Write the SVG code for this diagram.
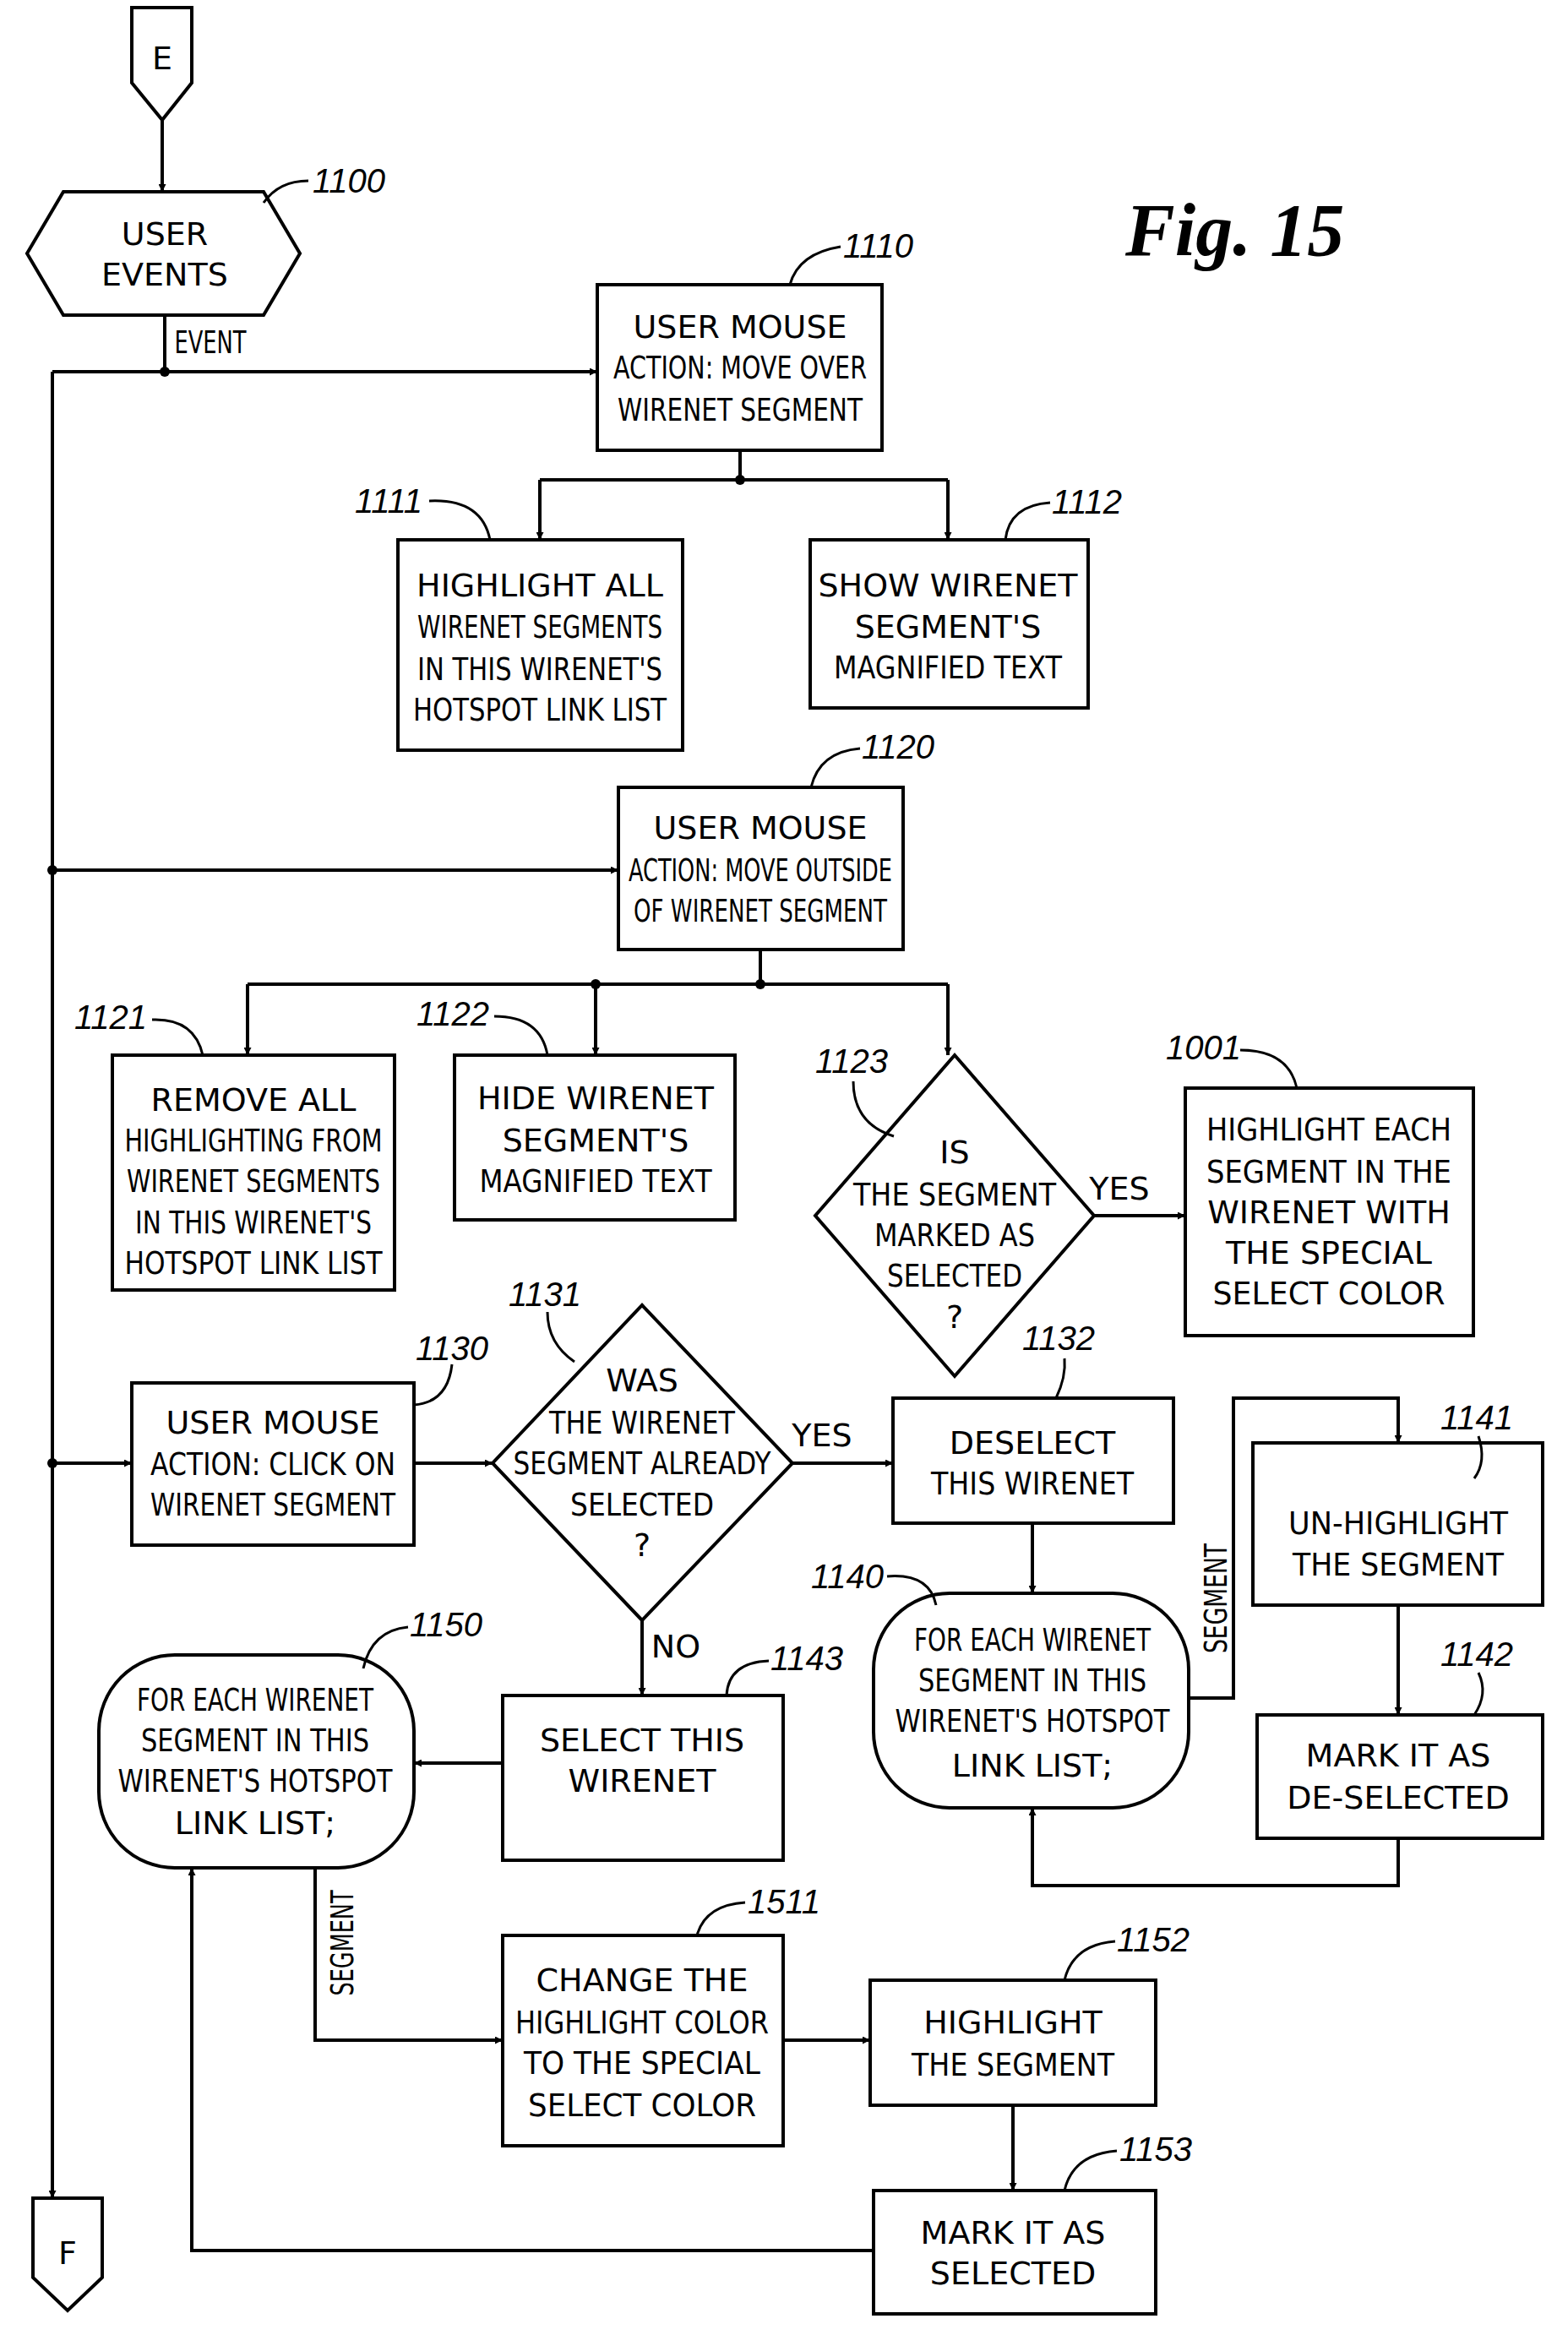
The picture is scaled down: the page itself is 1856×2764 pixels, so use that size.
<svg xmlns="http://www.w3.org/2000/svg" width="1856" height="2764" viewBox="0 0 1856 2764">
<defs>
<marker id="ah" viewBox="0 0 10 10" refX="10" refY="5" markerWidth="9" markerHeight="9" orient="auto" markerUnits="userSpaceOnUse"><path d="M0,0 L10,5 L0,10 z" fill="#000"/></marker>
<style>
.s{fill:#fff;stroke:#000;stroke-width:4}
.t{font-family:"DejaVu Sans",sans-serif;font-size:38px;text-anchor:middle;fill:#000}
.l{font-family:"Liberation Sans",sans-serif;font-style:italic;font-size:40px;fill:#000}
.c{fill:none;stroke:#000;stroke-width:4;marker-end:url(#ah)}
.n{fill:none;stroke:#000;stroke-width:4}
.r{fill:none;stroke:#000;stroke-width:3}
</style>
</defs>
<rect width="1856" height="2764" fill="#fff"/>
<text x="1332" y="302" font-family="Liberation Serif,serif" font-style="italic" font-weight="bold" font-size="88">Fig.  15</text>
<g id="connectors">
<path class="c" d="M192,142 V227"/>
<path class="n" d="M195,373 V440"/>
<path class="c" d="M62,440 H707"/>
<path class="c" d="M62,440 V2602"/>
<path class="n" d="M876,533 V568 M639,568 H1122"/>
<path class="c" d="M639,568 V639"/>
<path class="c" d="M1122,568 V639"/>
<path class="c" d="M62,1030 H732"/>
<path class="n" d="M900,1124 V1165 M293,1165 H1122"/>
<path class="c" d="M293,1165 V1249"/>
<path class="c" d="M705,1165 V1249"/>
<path class="c" d="M1122,1165 V1249"/>
<path class="c" d="M1295,1439 H1403"/>
<path class="c" d="M62,1732 H156"/>
<path class="c" d="M490,1732 H583"/>
<path class="c" d="M938,1732 H1057"/>
<path class="c" d="M760,1918 V2007"/>
<path class="c" d="M595,2087 H490"/>
<path class="c" d="M1222,1803 V1886"/>
<path class="c" d="M1407,2010 H1460 V1655 H1655 V1708"/>
<path class="c" d="M1655,1900 V2030"/>
<path class="c" d="M1655,2176 V2232 H1222 V2140"/>
<path class="c" d="M373,2211 V2415 H595"/>
<path class="c" d="M927,2415 H1030"/>
<path class="c" d="M1199,2492 V2593"/>
<path class="c" d="M1034,2664 H227 V2211"/>
<circle cx="195" cy="440" r="6"/><circle cx="62" cy="1030" r="6"/><circle cx="62" cy="1732" r="6"/>
<circle cx="876" cy="568" r="6"/><circle cx="900" cy="1165" r="6"/><circle cx="705" cy="1165" r="6"/>
<text class="t" x="249" y="418" font-size="32" textLength="85" lengthAdjust="spacingAndGlyphs">EVENT</text>
<text class="t" x="1325" y="1420">YES</text>
<text class="t" x="973" y="1712" font-size="34">YES</text>
<text class="t" x="800" y="1962">NO</text>
</g>
<g id="E"><path class="s" d="M156,9 H227 V98 L192,142 L156,98 Z"/><text class="t" x="192" y="82">E</text></g>
<g id="F"><path class="s" d="M39,2602 H121 V2696 L80,2735 L39,2696 Z"/><text class="t" x="80" y="2680">F</text></g>
<g id="n1100"><path class="s" d="M32,300 L75,227 H312 L355,300 L312,373 H75 Z"/><text class="t" x="195" y="290">USER</text><text class="t" x="195" y="338">EVENTS</text><text class="l" x="370" y="228">1100</text><path class="r" d="M312,240 Q330,214 365,214"/></g>
<g id="n1110"><rect class="s" x="707" y="337" width="337" height="196"/><text class="t" x="876" y="400">USER MOUSE</text><text class="t" x="876" y="448" textLength="300" lengthAdjust="spacingAndGlyphs">ACTION: MOVE OVER</text><text class="t" x="876" y="498" textLength="290" lengthAdjust="spacingAndGlyphs">WIRENET SEGMENT</text><text class="l" x="998" y="305">1110</text><path class="r" d="M935,337 Q945,300 995,292"/></g>
<g id="n1111"><rect class="s" x="471" y="639" width="337" height="249"/><text class="t" x="639" y="706">HIGHLIGHT ALL</text><text class="t" x="639" y="755" textLength="290" lengthAdjust="spacingAndGlyphs">WIRENET SEGMENTS</text><text class="t" x="639" y="805" textLength="290" lengthAdjust="spacingAndGlyphs">IN THIS WIRENET'S</text><text class="t" x="639" y="853" textLength="300" lengthAdjust="spacingAndGlyphs">HOTSPOT LINK LIST</text><text class="l" x="420" y="607">1111</text><path class="r" d="M508,593 Q570,590 580,639"/></g>
<g id="n1112"><rect class="s" x="959" y="639" width="329" height="199"/><text class="t" x="1122" y="706">SHOW WIRENET</text><text class="t" x="1122" y="755">SEGMENT'S</text><text class="t" x="1122" y="803" textLength="270" lengthAdjust="spacingAndGlyphs">MAGNIFIED TEXT</text><text class="l" x="1245" y="608">1112</text><path class="r" d="M1190,639 Q1195,598 1243,595"/></g>
<g id="n1120"><rect class="s" x="732" y="932" width="337" height="192"/><text class="t" x="900" y="993">USER MOUSE</text><text class="t" x="900" y="1043" textLength="312" lengthAdjust="spacingAndGlyphs">ACTION: MOVE OUTSIDE</text><text class="t" x="900" y="1091" textLength="300" lengthAdjust="spacingAndGlyphs">OF WIRENET SEGMENT</text><text class="l" x="1020" y="898">1120</text><path class="r" d="M960,932 Q970,890 1018,886"/></g>
<g id="n1121"><rect class="s" x="133" y="1249" width="334" height="278"/><text class="t" x="300" y="1315">REMOVE ALL</text><text class="t" x="300" y="1363" textLength="305" lengthAdjust="spacingAndGlyphs">HIGHLIGHTING FROM</text><text class="t" x="300" y="1411" textLength="300" lengthAdjust="spacingAndGlyphs">WIRENET SEGMENTS</text><text class="t" x="300" y="1460" textLength="280" lengthAdjust="spacingAndGlyphs">IN THIS WIRENET'S</text><text class="t" x="300" y="1508" textLength="305" lengthAdjust="spacingAndGlyphs">HOTSPOT LINK LIST</text><text class="l" x="88" y="1218">1121</text><path class="r" d="M180,1207 Q230,1205 240,1249"/></g>
<g id="n1122"><rect class="s" x="538" y="1249" width="332" height="195"/><text class="t" x="705" y="1313">HIDE WIRENET</text><text class="t" x="705" y="1363">SEGMENT'S</text><text class="t" x="705" y="1411" textLength="275" lengthAdjust="spacingAndGlyphs">MAGNIFIED TEXT</text><text class="l" x="493" y="1214">1122</text><path class="r" d="M585,1203 Q640,1203 648,1249"/></g>
<g id="n1123"><path class="s" d="M1130,1249 L1295,1439 L1130,1629 L965,1439 Z"/><text class="t" x="1130" y="1377">IS</text><text class="t" x="1130" y="1427" textLength="240" lengthAdjust="spacingAndGlyphs">THE SEGMENT</text><text class="t" x="1130" y="1475" textLength="190" lengthAdjust="spacingAndGlyphs">MARKED AS</text><text class="t" x="1130" y="1523" textLength="160" lengthAdjust="spacingAndGlyphs">SELECTED</text><text class="t" x="1130" y="1572">?</text><text class="l" x="965" y="1270">1123</text><path class="r" d="M1010,1280 Q1010,1330 1058,1345"/></g>
<g id="n1001"><rect class="s" x="1403" y="1288" width="341" height="293"/><text class="t" x="1573" y="1350" textLength="290" lengthAdjust="spacingAndGlyphs">HIGHLIGHT EACH</text><text class="t" x="1573" y="1400" textLength="290" lengthAdjust="spacingAndGlyphs">SEGMENT IN THE</text><text class="t" x="1573" y="1448">WIRENET WITH</text><text class="t" x="1573" y="1496">THE SPECIAL</text><text class="t" x="1573" y="1544" textLength="275" lengthAdjust="spacingAndGlyphs">SELECT COLOR</text><text class="l" x="1380" y="1254">1001</text><path class="r" d="M1468,1243 Q1525,1243 1535,1288"/></g>
<g id="n1130"><rect class="s" x="156" y="1637" width="334" height="192"/><text class="t" x="323" y="1697">USER MOUSE</text><text class="t" x="323" y="1746" textLength="290" lengthAdjust="spacingAndGlyphs">ACTION: CLICK ON</text><text class="t" x="323" y="1794" textLength="290" lengthAdjust="spacingAndGlyphs">WIRENET SEGMENT</text><text class="l" x="492" y="1610">1130</text><path class="r" d="M490,1663 Q530,1660 535,1615"/></g>
<g id="n1131"><path class="s" d="M760,1545 L938,1732 L760,1918 L583,1732 Z"/><text class="t" x="760" y="1647">WAS</text><text class="t" x="760" y="1697" textLength="220" lengthAdjust="spacingAndGlyphs">THE WIRENET</text><text class="t" x="760" y="1745" textLength="305" lengthAdjust="spacingAndGlyphs">SEGMENT ALREADY</text><text class="t" x="760" y="1794" textLength="170" lengthAdjust="spacingAndGlyphs">SELECTED</text><text class="t" x="760" y="1842">?</text><text class="l" x="602" y="1546">1131</text><path class="r" d="M648,1553 Q648,1590 680,1612"/></g>
<g id="n1132"><rect class="s" x="1057" y="1655" width="332" height="148"/><text class="t" x="1222" y="1721">DESELECT</text><text class="t" x="1222" y="1769" textLength="240" lengthAdjust="spacingAndGlyphs">THIS WIRENET</text><text class="l" x="1210" y="1598">1132</text><path class="r" d="M1260,1608 Q1262,1630 1250,1655"/></g>
<g id="n1143"><rect class="s" x="595" y="2007" width="332" height="195"/><text class="t" x="760" y="2073">SELECT THIS</text><text class="t" x="760" y="2121">WIRENET</text><text class="l" x="912" y="1977">1143</text><path class="r" d="M860,2007 Q862,1968 910,1966"/></g>
<g id="n1150"><rect class="s" x="117" y="1959" width="373" height="252" rx="90" ry="90"/><text class="t" x="302" y="2025" textLength="280" lengthAdjust="spacingAndGlyphs">FOR EACH WIRENET</text><text class="t" x="302" y="2073" textLength="270" lengthAdjust="spacingAndGlyphs">SEGMENT IN THIS</text><text class="t" x="302" y="2121" textLength="325" lengthAdjust="spacingAndGlyphs">WIRENET'S HOTSPOT</text><text class="t" x="302" y="2171">LINK LIST;</text><text class="l" x="485" y="1937">1150</text><path class="r" d="M430,1975 Q440,1930 483,1926"/></g>
<g id="n1140"><rect class="s" x="1034" y="1886" width="373" height="254" rx="90" ry="90"/><text class="t" x="1222" y="1954" textLength="280" lengthAdjust="spacingAndGlyphs">FOR EACH WIRENET</text><text class="t" x="1222" y="2002" textLength="270" lengthAdjust="spacingAndGlyphs">SEGMENT IN THIS</text><text class="t" x="1222" y="2050" textLength="325" lengthAdjust="spacingAndGlyphs">WIRENET'S HOTSPOT</text><text class="t" x="1222" y="2103">LINK LIST;</text><text class="l" x="960" y="1880">1140</text><path class="r" d="M1050,1866 Q1100,1862 1108,1900"/></g>
<g id="n1141"><rect class="s" x="1483" y="1708" width="343" height="192"/><text class="t" x="1655" y="1816" textLength="260" lengthAdjust="spacingAndGlyphs">UN-HIGHLIGHT</text><text class="t" x="1655" y="1865" textLength="250" lengthAdjust="spacingAndGlyphs">THE SEGMENT</text><text class="l" x="1705" y="1692">1141</text><path class="r" d="M1750,1700 Q1760,1730 1745,1750"/></g>
<g id="n1142"><rect class="s" x="1488" y="2030" width="338" height="146"/><text class="t" x="1655" y="2091">MARK IT AS</text><text class="t" x="1655" y="2141">DE-SELECTED</text><text class="l" x="1705" y="1972">1142</text><path class="r" d="M1750,1980 Q1762,2005 1745,2030"/></g>
<g id="n1511"><rect class="s" x="595" y="2291" width="332" height="249"/><text class="t" x="760" y="2357">CHANGE THE</text><text class="t" x="760" y="2407" textLength="300" lengthAdjust="spacingAndGlyphs">HIGHLIGHT COLOR</text><text class="t" x="760" y="2455" textLength="280" lengthAdjust="spacingAndGlyphs">TO THE SPECIAL</text><text class="t" x="760" y="2505" textLength="270" lengthAdjust="spacingAndGlyphs">SELECT COLOR</text><text class="l" x="885" y="2265">1511</text><path class="r" d="M825,2291 Q835,2255 882,2252"/></g>
<g id="n1152"><rect class="s" x="1030" y="2344" width="338" height="148"/><text class="t" x="1199" y="2407">HIGHLIGHT</text><text class="t" x="1199" y="2457" textLength="240" lengthAdjust="spacingAndGlyphs">THE SEGMENT</text><text class="l" x="1322" y="2310">1152</text><path class="r" d="M1260,2344 Q1270,2302 1320,2298"/></g>
<g id="n1153"><rect class="s" x="1034" y="2593" width="334" height="146"/><text class="t" x="1199" y="2656">MARK IT AS</text><text class="t" x="1199" y="2704">SELECTED</text><text class="l" x="1325" y="2558">1153</text><path class="r" d="M1260,2593 Q1270,2550 1322,2546"/></g>
<g id="edge-labels">
<text class="t" transform="translate(1452,1892) rotate(-90)" font-size="30" textLength="130" lengthAdjust="spacingAndGlyphs">SEGMENT</text>
<text class="t" transform="translate(418,2300) rotate(-90)" font-size="30" textLength="125" lengthAdjust="spacingAndGlyphs">SEGMENT</text>
</g>
</svg>
